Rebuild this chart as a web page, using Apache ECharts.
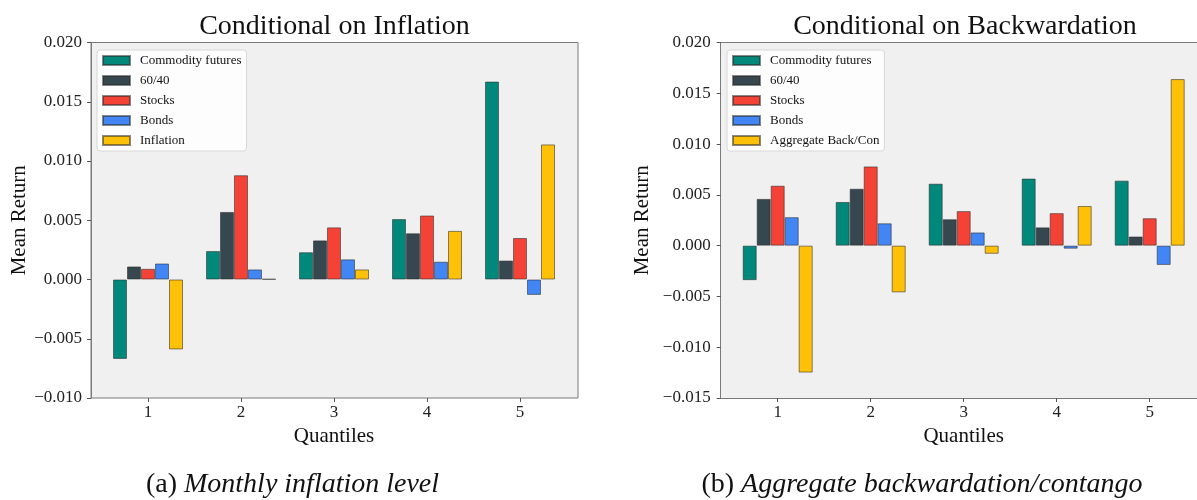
<!DOCTYPE html>
<html>
<head>
<meta charset="utf-8">
<script src="https://cdn.jsdelivr.net/npm/echarts@6/dist/echarts.min.js"></script>
<style>
html,body{margin:0;padding:0;background:#fff;}
#chart{width:1197px;height:500px;}
</style>
</head>
<body>
<div id="chart"></div>
<script>
// ---- data ----
const quantiles = ['1', '2', '3', '4', '5'];

// (a) Conditional on Inflation
const infCommodity = [-0.0067, 0.0024, 0.0023, 0.0051, 0.0167];
const inf6040      = [0.0011, 0.0057, 0.0033, 0.0039, 0.0016];
const infStocks    = [0.0009, 0.0088, 0.0044, 0.0054, 0.0035];
const infBonds     = [0.00135, 0.00085, 0.0017, 0.0015, -0.0013];
const infInflation = [-0.0059, 0.00004, 0.00085, 0.0041, 0.0114];

// (b) Conditional on Backwardation
const bwCommodity = [-0.0034, 0.0043, 0.0061, 0.0066, 0.0064];
const bw6040      = [0.0046, 0.0056, 0.0026, 0.0018, 0.0009];
const bwStocks    = [0.0059, 0.0078, 0.0034, 0.0032, 0.0027];
const bwBonds     = [0.0028, 0.0022, 0.0013, -0.0003, -0.0019];
const bwAggregate = [-0.0125, -0.0046, -0.0008, 0.0039, 0.0164];

const leftTicks = { min: -0.010, max: 0.020, interval: 0.005 };
const rightTicks = { min: -0.015, max: 0.020, interval: 0.005 };

const titles = ['Conditional on Inflation', 'Conditional on Backwardation'];
const captions = [['(a) ', 'Monthly inflation level'], ['(b) ', 'Aggregate backwardation/contango']];

// ---- styles ----
const FONT = "'Liberation Serif', 'DejaVu Serif', serif";
const colors = {
  'Commodity futures': '#00897B',
  '60/40': '#37474F',
  'Stocks': '#F44336',
  'Bonds': '#4285F4',
  'Inflation': '#FFC107',
  'Aggregate Back/Con': '#FFC107'
};
const edge = 'rgba(40,40,40,0.55)';
const spine = '#7a7a7a';

const chart = echarts.init(document.getElementById('chart'));

const PLOT_TOP = 42.5, PLOT_H = 355.5;
const frames = [{ left: 91, width: 487 }, { left: 720.7, width: 500 }];
const dataGrids = [{ left: 101.5, width: 465 }, { left: 731.2, width: 465 }];

function fmt(v) { return v.toFixed(3).replace('-', '\u2212'); }

const grid = [];
const xAxis = [];
const yAxis = [];
[0, 1].forEach(i => {
  grid.push({ left: frames[i].left, top: PLOT_TOP, width: frames[i].width, height: PLOT_H,
    show: true, backgroundColor: '#f0f0f0', borderColor: spine, borderWidth: i === 0 ? 1 : 0, containLabel: false });
  grid.push({ left: dataGrids[i].left, top: PLOT_TOP, width: dataGrids[i].width, height: PLOT_H, containLabel: false });
});
[0, 1].forEach(i => {
  const t = i === 0 ? leftTicks : rightTicks;
  // frame axes (right panel: spines drawn by axes because the panel runs past the edge)
  const spineX = { type: 'value', gridIndex: 2 * i, min: 0, max: 1,
    axisLine: { show: i === 1, onZero: false, lineStyle: { color: spine, width: 1 } },
    axisTick: { show: false }, axisLabel: { show: false }, splitLine: { show: false } };
  xAxis.push(Object.assign({ position: 'bottom' }, spineX));
  xAxis.push(Object.assign({ position: 'top' }, spineX));
  yAxis.push({ type: 'value', gridIndex: 2 * i, min: t.min, max: t.max, interval: t.interval,
    axisLine: { show: true, onZero: false, lineStyle: { color: spine, width: 1 } },
    axisTick: { show: true, inside: false, length: 4, lineStyle: { color: '#555' } },
    splitLine: { show: false },
    axisLabel: { formatter: fmt, margin: i === 0 ? 9 : 10, fontFamily: FONT, fontSize: 17, color: '#222' },
    name: 'Mean Return', nameLocation: 'middle', nameGap: i === 0 ? 60 : 68,
    nameTextStyle: { fontFamily: FONT, fontSize: 21, color: '#111' }
  });
  // data axes
  xAxis.push({ type: 'category', gridIndex: 2 * i + 1, data: quantiles, position: 'bottom',
    axisLine: { show: false, onZero: false },
    axisTick: { show: true, alignWithLabel: true, inside: false, length: 4, lineStyle: { color: '#555' } },
    axisLabel: { margin: 6, fontFamily: FONT, fontSize: 17, color: '#222' },
    name: 'Quantiles', nameLocation: 'middle', nameGap: 27,
    nameTextStyle: { fontFamily: FONT, fontSize: 21, color: '#111' }
  });
  yAxis.push({ type: 'value', gridIndex: 2 * i + 1, min: t.min, max: t.max, interval: t.interval, show: false });
});
// x axis indices: 0,1 frame-left; 2 data-left; 3,4 frame-right; 5 data-right
// y axis indices: 0 frame-left; 1 data-left; 2 frame-right; 3 data-right

function bar(name, data, xi, yi) {
  return {
    type: 'bar', name: name, data: data, xAxisIndex: xi, yAxisIndex: yi,
    barWidth: 14, barGap: '0%',
    itemStyle: { color: colors[name], borderColor: edge, borderWidth: 1 },
    emphasis: { disabled: true }
  };
}

const series = [
  bar('Commodity futures', infCommodity, 2, 1),
  bar('60/40', inf6040, 2, 1),
  bar('Stocks', infStocks, 2, 1),
  bar('Bonds', infBonds, 2, 1),
  bar('Inflation', infInflation, 2, 1),
  bar('Commodity futures', bwCommodity, 5, 3),
  bar('60/40', bw6040, 5, 3),
  bar('Stocks', bwStocks, 5, 3),
  bar('Bonds', bwBonds, 5, 3),
  bar('Aggregate Back/Con', bwAggregate, 5, 3)
];

function legend(left, names) {
  return {
    orient: 'vertical', left: left, top: 50,
    data: names.map(n => ({ name: n, icon: 'rect' })),
    itemWidth: 27, itemHeight: 9, itemGap: 7,
    padding: [4, 5, 4, 5],
    backgroundColor: 'rgba(255,255,255,0.85)', borderColor: '#d8d8d8', borderWidth: 1, borderRadius: 3,
    textStyle: { fontFamily: FONT, fontSize: 13, lineHeight: 13, color: '#111', padding: [0, 0, 0, 5] },
    selectedMode: false
  };
}

const graphic = [];
const titleX = [334.5, 965];
const capX = [292.5, 922];
[0, 1].forEach(i => {
  graphic.push({ type: 'text', x: titleX[i], y: 27, silent: true,
    style: { text: titles[i], font: "28px " + FONT, fill: '#111', textAlign: 'center', textVerticalAlign: 'middle' } });
  graphic.push({ type: 'text', x: capX[i], y: 485, silent: true,
    style: { text: '{n|' + captions[i][0] + '}{it|' + captions[i][1] + '}', textAlign: 'center', textVerticalAlign: 'middle',
      rich: { n: { fontFamily: FONT, fontSize: 28, fill: '#111', color: '#111' },
              it: { fontFamily: FONT, fontSize: 28, fontStyle: 'italic', fill: '#111', color: '#111' } } } });
});

chart.setOption({
  animation: false,
  grid: grid, xAxis: xAxis, yAxis: yAxis, series: series,
  legend: [
    legend(97, ['Commodity futures', '60/40', 'Stocks', 'Bonds', 'Inflation']),
    legend(727, ['Commodity futures', '60/40', 'Stocks', 'Bonds', 'Aggregate Back/Con'])
  ],
  graphic: graphic
});
</script>
</body>
</html>
